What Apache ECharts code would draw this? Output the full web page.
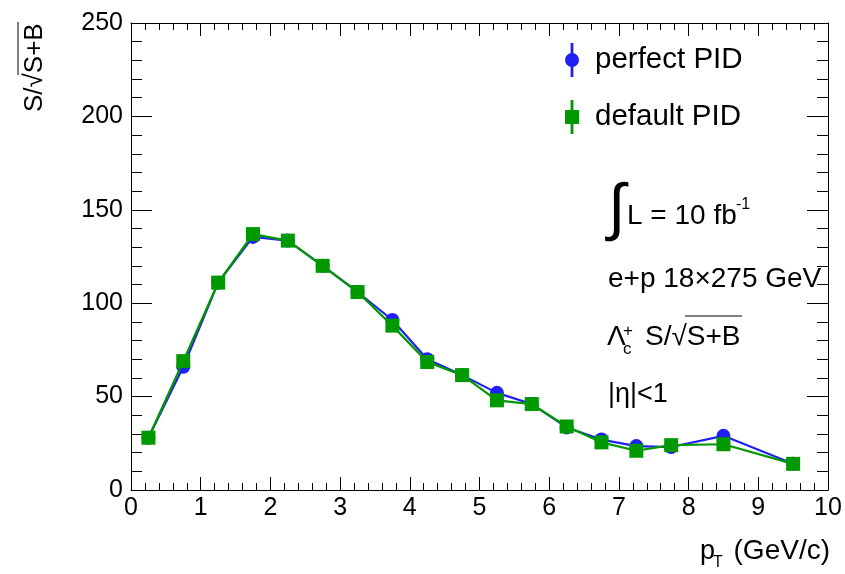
<!DOCTYPE html>
<html>
<head>
<meta charset="utf-8">
<script src="https://cdn.jsdelivr.net/npm/echarts@6/dist/echarts.min.js"></script>
<style>
html,body{margin:0;padding:0;background:#fff;}
#c{width:845px;height:574px;}
</style>
</head>
<body>
<div id="c"></div>
<script>
// ---- data ----
const pT = [0.25, 0.75, 1.25, 1.75, 2.25, 2.75, 3.25, 3.75, 4.25, 4.75, 5.25, 5.75, 6.25, 6.75, 7.25, 7.75, 8.5, 9.5];
const perfectPID = [28, 66, 111, 135.5, 133.5, 120, 106, 91, 70, 61.5, 52, 46, 33.5, 27, 23.5, 23, 29, 14];
const defaultPID = [28, 69, 111, 137, 133.5, 120, 106, 88, 68.5, 61.5, 48, 46, 34, 25.5, 21, 24, 24.5, 14];
const seriesNames = ['perfect PID', 'default PID'];
const xRange = [0, 10];
const yRange = [0, 250];

const BLUE = '#2020f5';
const GREEN = '#009a00';
const FONT = '"Liberation Sans", Arial, Helvetica, sans-serif';

const pairs = (xs, ys) => xs.map((x, i) => [x, ys[i]]);

const iconCircle = 'path://M5.6 0H8.4V10.3H5.6Z M5.6 23.7H8.4V34H5.6Z M0 17A7 7 0 1 1 14 17A7 7 0 1 1 0 17Z';
const iconSquare = 'path://M5.6 0H8.4V10H5.6Z M5.6 24H8.4V34H5.6Z M0 10H14V24H0Z';

const chart = echarts.init(document.getElementById('c'), null, {renderer: 'canvas'});

const axisCommon = {
  type: 'value',
  axisLine: {show: true, onZero: false, lineStyle: {color: '#000', width: 1}},
  splitLine: {show: false},
};

const option = {
  backgroundColor: '#fff',
  animation: false,
  grid: {left: 131, right: 17, top: 23, bottom: 84, containLabel: false},
  xAxis: [
    Object.assign({}, axisCommon, {
      position: 'bottom', min: xRange[0], max: xRange[1], interval: 1,
      axisTick: {show: true, inside: true, length: 13, lineStyle: {color: '#000'}},
      minorTick: {show: true, splitNumber: 5, length: 7, lineStyle: {color: '#000'}},
      axisLabel: {show: true, margin: 6, fontSize: 25, fontFamily: FONT, color: '#000'}
    }),
    Object.assign({}, axisCommon, {
      position: 'top', min: xRange[0], max: xRange[1], interval: 1,
      axisTick: {show: true, inside: true, length: 13, lineStyle: {color: '#000'}},
      minorTick: {show: true, splitNumber: 5, length: 7, lineStyle: {color: '#000'}},
      axisLabel: {show: false}
    })
  ],
  yAxis: [
    Object.assign({}, axisCommon, {
      position: 'left', min: yRange[0], max: yRange[1], interval: 50,
      axisTick: {show: true, inside: true, length: 21, lineStyle: {color: '#000'}},
      minorTick: {show: true, splitNumber: 5, length: 11, lineStyle: {color: '#000'}},
      axisLabel: {show: true, margin: 8, fontSize: 25, fontFamily: FONT, color: '#000'}
    }),
    Object.assign({}, axisCommon, {
      position: 'right', min: yRange[0], max: yRange[1], interval: 50,
      axisTick: {show: true, inside: true, length: 21, lineStyle: {color: '#000'}},
      minorTick: {show: true, splitNumber: 5, length: 11, lineStyle: {color: '#000'}},
      axisLabel: {show: false}
    })
  ],
  legend: {
    orient: 'vertical', left: 560, top: 38,
    itemWidth: 14, itemHeight: 34, itemGap: 23,
    textStyle: {fontSize: 29.5, fontFamily: FONT, color: '#000', padding: [0, 0, 0, 11]},
    data: [
      {name: seriesNames[0], icon: iconCircle},
      {name: seriesNames[1], icon: iconSquare}
    ]
  },
  series: [
    {
      name: seriesNames[0], type: 'line', xAxisIndex: 0, yAxisIndex: 0,
      data: pairs(pT, perfectPID),
      symbol: 'circle', symbolSize: 14,
      itemStyle: {color: BLUE}, lineStyle: {color: BLUE, width: 2.2}, z: 2
    },
    {
      name: seriesNames[1], type: 'line', xAxisIndex: 0, yAxisIndex: 0,
      data: pairs(pT, defaultPID),
      symbol: 'rect', symbolSize: 14,
      itemStyle: {color: GREEN}, lineStyle: {color: GREEN, width: 2.2}, z: 3
    }
  ],
  graphic: [
    // y-axis title S/sqrt(S+B)
    {type: 'text', x: 35, y: 112, rotation: Math.PI / 2,
     style: {text: 'S/\u221AS+B', fontSize: 26, fontFamily: FONT, fill: '#000', align: 'left', verticalAlign: 'middle'}},
    {type: 'line', shape: {x1: 18, y1: 22, x2: 18, y2: 75}, style: {stroke: '#000', lineWidth: 1}},
    // x-axis title
    {type: 'text', x: 700, y: 552,
     style: {text: 'p', fontSize: 27, fontFamily: FONT, fill: '#000', align: 'left', verticalAlign: 'middle'}},
    {type: 'text', x: 713, y: 563,
     style: {text: 'T', fontSize: 16, fontFamily: FONT, fill: '#000', align: 'left', verticalAlign: 'middle'}},
    {type: 'text', x: 830, y: 551,
     style: {text: '(GeV/c)', fontSize: 28, fontFamily: FONT, fill: '#000', align: 'right', verticalAlign: 'middle'}},
    // integrated luminosity
    {type: 'text', x: 608, y: 211,
     style: {text: '\u222B', fontSize: 63, fontFamily: FONT, fill: '#000', align: 'left', verticalAlign: 'middle'}},
    {type: 'text', x: 627, y: 216,
     style: {text: 'L = 10 fb', fontSize: 28, fontFamily: FONT, fill: '#000', align: 'left', verticalAlign: 'middle'}},
    {type: 'text', x: 736, y: 205,
     style: {text: '-1', fontSize: 16, fontFamily: FONT, fill: '#000', align: 'left', verticalAlign: 'middle'}},
    // beam energies
    {type: 'text', x: 608, y: 279,
     style: {text: 'e+p 18\u00D7275 GeV', fontSize: 28, fontFamily: FONT, fill: '#000', align: 'left', verticalAlign: 'middle'}},
    // Lambda_c^+ S/sqrt(S+B)
    {type: 'text', x: 607, y: 337,
     style: {text: '\u039B', fontSize: 28, fontFamily: FONT, fill: '#000', align: 'left', verticalAlign: 'middle'}},
    {type: 'text', x: 623, y: 349,
     style: {text: 'c', fontSize: 17, fontFamily: FONT, fill: '#000', align: 'left', verticalAlign: 'middle'}},
    {type: 'text', x: 623, y: 331,
     style: {text: '+', fontSize: 17, fontFamily: FONT, fill: '#000', align: 'left', verticalAlign: 'middle'}},
    {type: 'text', x: 645, y: 337,
     style: {text: 'S/\u221AS+B', fontSize: 28, fontFamily: FONT, fill: '#000', align: 'left', verticalAlign: 'middle'}},
    {type: 'line', shape: {x1: 685, y1: 316, x2: 742, y2: 316}, style: {stroke: '#000', lineWidth: 1}},
    // eta range
    {type: 'text', x: 608, y: 395,
     style: {text: '|\u03B7|<1', fontSize: 27, fontFamily: FONT, fill: '#000', align: 'left', verticalAlign: 'middle'}}
  ]
};

chart.setOption(option);
</script>
</body>
</html>
